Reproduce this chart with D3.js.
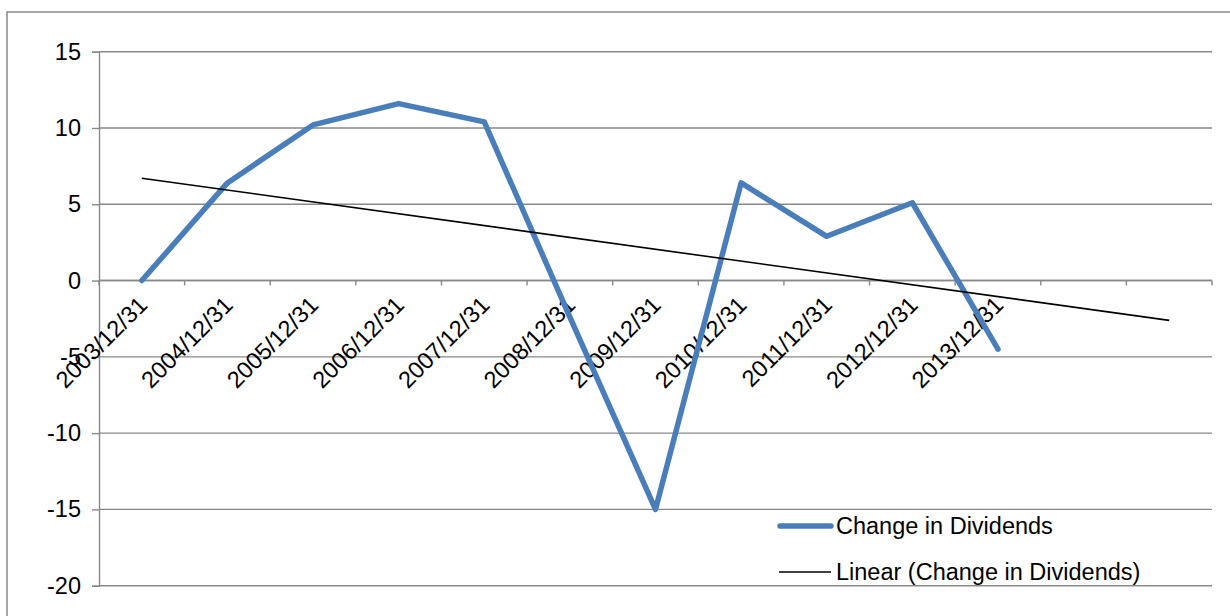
<!DOCTYPE html>
<html><head><meta charset="utf-8">
<script src="https://cdn.jsdelivr.net/npm/d3@7"></script>
<style>html,body{margin:0;padding:0;background:#fff;}svg{display:block;}</style>
</head><body>
<svg id="c" width="1230" height="616"></svg>
<script>
const categories = ["2003/12/31","2004/12/31","2005/12/31","2006/12/31","2007/12/31","2008/12/31","2009/12/31","2010/12/31","2011/12/31","2012/12/31","2013/12/31"];
const forecastSlots = ["f1","f2"];
const dividendChange = [0, 6.4, 10.2, 11.6, 10.4, -2.4, -15, 6.4, 2.9, 5.1, -4.5];
const yTicks = [15, 10, 5, 0, -5, -10, -15, -20];
const seriesName = "Change in Dividends";
const trendName = "Linear (Change in Dividends)";

const svg = d3.select("#c");
const font = "'Liberation Sans', Arial, sans-serif";
const grid = "#898989";
const fs = 23.5;

// outer chart border
svg.append("rect").attr("x",7).attr("y",12).attr("width",1240).attr("height",620)
  .attr("fill","none").attr("stroke",grid).attr("stroke-width",1.5);

const L = 99, R = 1212, T = 51.7, B = 585.7;
const allCats = categories.concat(forecastSlots);
const x = d3.scaleBand().domain(allCats).range([L, R]).paddingInner(0).paddingOuter(0);
const cx = c => x(c) + x.bandwidth()/2;
const y = d3.scaleLinear().domain([-20, 15]).range([B, T]);

// gridlines
svg.append("g").selectAll("line").data(yTicks).join("line")
  .attr("x1", L).attr("x2", R).attr("y1", d=>y(d)).attr("y2", d=>y(d))
  .attr("stroke", grid).attr("stroke-width", 1.4);

// y axis
const yAxis = d3.axisLeft(y).tickValues(yTicks).tickSize(7).tickPadding(11).tickFormat(d3.format("d"));
const ya = svg.append("g").attr("transform", `translate(${L},0)`).call(yAxis);
ya.select(".domain").attr("stroke", grid).attr("stroke-width",1.4);
ya.selectAll(".tick line").attr("stroke", grid).attr("stroke-width",1.4);
ya.selectAll(".tick text").attr("font-family", font).attr("font-size", fs).attr("fill","#000")
  .text(d => d < 0 ? "-" + Math.abs(d) : d);

// x axis at y=0 with tick marks on band boundaries
const y0 = y(0);
const bounds = allCats.map(c => x(c)).concat([R]);
svg.append("line").attr("x1",L).attr("x2",R).attr("y1",y0).attr("y2",y0).attr("stroke",grid).attr("stroke-width",1.4);
svg.append("g").selectAll("line").data(bounds).join("line")
  .attr("x1", d=>d).attr("x2", d=>d).attr("y1", y0).attr("y2", y0+5)
  .attr("stroke", grid).attr("stroke-width", 1.4);

// category labels rotated
svg.append("g").selectAll("text").data(categories).join("text")
  .attr("transform", d => `translate(${cx(d)+1},${y0+20}) rotate(-45)`)
  .attr("text-anchor","end").attr("dy","0.35em")
  .attr("font-family", font).attr("font-size", fs).attr("fill","#000")
  .text(d => d);

// series line
const pts = categories.map((c,i)=>({c, v: dividendChange[i]}));
const line = d3.line().x(d=>cx(d.c)).y(d=>y(d.v));
svg.append("path").datum(pts).attr("d", line).attr("fill","none")
  .attr("stroke","#4a7ebb").attr("stroke-width",5.5).attr("stroke-linejoin","round").attr("stroke-linecap","round");

// linear trendline (least squares), forecast forward 2 periods
const n = dividendChange.length;
const xs = d3.range(1, n+1);
const mx = d3.mean(xs), my = d3.mean(dividendChange);
const sxy = d3.sum(xs, (xi,i)=>(xi-mx)*(dividendChange[i]-my));
const sxx = d3.sum(xs, xi=>(xi-mx)*(xi-mx));
const slope = sxy/sxx, icpt = my - slope*mx;
const trend = [{c: allCats[0], v: icpt + slope*1}, {c: allCats[allCats.length-1], v: icpt + slope*allCats.length}];
svg.append("path").datum(trend).attr("d", line).attr("fill","none")
  .attr("stroke","#000").attr("stroke-width",1.6);

// legend
const lg = svg.append("g");
lg.append("line").attr("x1",780).attr("x2",831).attr("y1",526).attr("y2",526)
  .attr("stroke","#4a7ebb").attr("stroke-width",5.5).attr("stroke-linecap","round");
lg.append("text").attr("x",836).attr("y",526).attr("dy","0.35em").attr("font-family",font).attr("font-size",fs).text(seriesName);
lg.append("line").attr("x1",779).attr("x2",831).attr("y1",572).attr("y2",572)
  .attr("stroke","#000").attr("stroke-width",1.6);
lg.append("text").attr("x",836).attr("y",572).attr("dy","0.35em").attr("font-family",font).attr("font-size",fs).text(trendName);
</script>
</body></html>
